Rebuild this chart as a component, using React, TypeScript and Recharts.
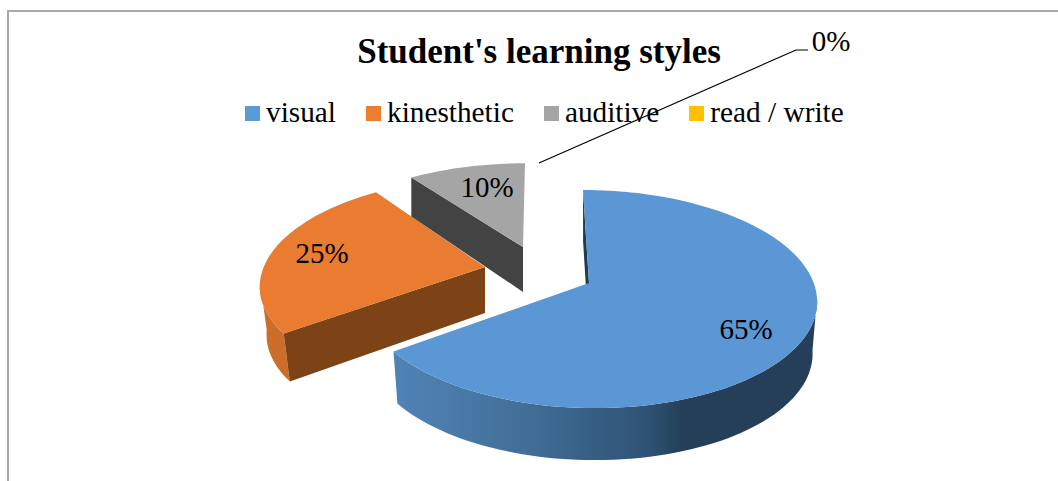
import { Legend, Pie, PieChart } from "recharts";

const CATEGORIES = ["visual", "kinesthetic", "auditive", "read / write"];
const SHARES = [65, 25, 10, 0];
const COLORS = ["#5B97D5", "#E97C30", "#A5A5A5", "#FFC000"];
const LEGEND_COLORS = ["#5B9BD5", "#ED7D31", "#A5A5A5", "#FFC000"];

const pieData = CATEGORIES.map((name, i) => ({ name, value: SHARES[i], fill: LEGEND_COLORS[i] }));

const FONT = '"Liberation Serif", "Times New Roman", serif';
const CENTER_X = 589;
const CENTER_Y = 283;
const RADIUS = 227;

// fake 3D: flat disc seen in perspective
const FLATTEN = 0.47;
const PERSPECTIVE = 0.147;

// how each exploded slice sits and looks, in the same order as CATEGORIES
const SLICE_VIEW = [
  { dx: 0, dy: 0, sx: 0.99, sy: 1, skew: -6, depth: 52, rimDepth: 52, inset: 0.98, radial: "#1F3B54", wall: "url(#blueWall)", wallFrom: 98, wallTo: 234 },
  { dx: -104, dy: -16, sx: 0.975, sy: 0.97, skew: 9, depth: 46, rimDepth: 48, inset: 0.97, radial: "#7C4316", wall: "#CB6E2A", wallFrom: 234, wallTo: 262 },
  { dx: -66, dy: -36, sx: 0.95, sy: 0.9, skew: 2, depth: 45, rimDepth: 39, inset: 1, radial: "#434343", wall: "none", wallFrom: 0, wallTo: 0 },
  { dx: 0, dy: 0, sx: 1, sy: 1, skew: 0, depth: 0, rimDepth: 0, inset: 1, radial: "none", wall: "none", wallFrom: 0, wallTo: 0 },
];

// text anchor of each percentage, relative to the pie centre
const LABEL_SPOTS = [
  { x: 157, y: 56 },
  { x: -267, y: -20 },
  { x: -102, y: -86 },
  { x: 242, y: -232 },
];
const LEADER = [
  { x: -50, y: -120 },
  { x: 207, y: -233 },
  { x: 219, y: -233 },
];

function rimPoint(view: any, r: number, deg: number) {
  const t = (deg * Math.PI) / 180;
  const u = Math.sin(t);
  const v = Math.cos(t);
  const w = 1 + PERSPECTIVE * v;
  return {
    x: (r * view.sx * u) / w + view.skew * v,
    y: (-r * FLATTEN * view.sy * v) / w,
  };
}

function toPoints(list: { x: number; y: number }[], ox: number, oy: number) {
  return list.map((p) => `${(p.x + ox).toFixed(1)},${(p.y + oy).toFixed(1)}`).join(" ");
}

function arc(view: any, r: number, from: number, to: number) {
  const pts = [];
  for (let d = from; d < to; d += 2) pts.push(rimPoint(view, r, d));
  pts.push(rimPoint(view, r, to));
  return pts;
}

function below(view: any, p: { x: number; y: number }) {
  return { x: p.x * view.inset, y: p.y + view.rimDepth };
}

function Slice3D(props: any) {
  const { cx, cy, outerRadius, startAngle, endAngle, name } = props;
  if (startAngle === endAngle) return null;
  const view = SLICE_VIEW[CATEGORIES.indexOf(name)];
  const color = COLORS[CATEGORIES.indexOf(name)];
  const ox = cx + view.dx;
  const oy = cy + view.dy;
  // pie angles run counter-clockwise from 3 o'clock, here clock angles from 12
  const t0 = 90 - startAngle;
  const t1 = 90 - endAngle;
  const top = arc(view, outerRadius, t0, t1);
  const first = rimPoint(view, outerRadius, t0);
  const apex = { x: 0, y: 0 };
  const radialWall = [first, apex, { x: 0, y: view.depth }, below(view, first)];
  const outer = view.wallTo > view.wallFrom ? arc(view, outerRadius, view.wallFrom, view.wallTo) : [];
  const outerWall = [...outer, ...outer.map((p) => below(view, p)).reverse()];
  return (
    <g>
      <defs>
        <linearGradient id="blueWall" gradientUnits="userSpaceOnUse" x1={393} x2={820} y1={0} y2={0}>
          <stop offset="0" stopColor="#5084B6" />
          <stop offset="0.3" stopColor="#426F99" />
          <stop offset="0.6" stopColor="#2E5273" />
          <stop offset="0.68" stopColor="#243F57" />
          <stop offset="1" stopColor="#243F57" />
        </linearGradient>
      </defs>
      {outerWall.length > 0 && <polygon points={toPoints(outerWall, ox, oy)} fill={view.wall} />}
      <polygon points={toPoints(radialWall, ox, oy)} fill={view.radial} />
      <polygon points={toPoints([apex, ...top], ox, oy)} fill={color} />
    </g>
  );
}

function SliceLabel(props: any) {
  const { index, value } = props;
  const spot = LABEL_SPOTS[index];
  return (
    <g>
      {value === 0 && (
        <polyline points={toPoints(LEADER, CENTER_X, CENTER_Y)} fill="none" stroke="#000" strokeWidth={1.2} />
      )}
      <text
        x={CENTER_X + spot.x}
        y={CENTER_Y + spot.y}
        textAnchor="middle"
        fontFamily={FONT}
        fontSize={29}
        fill="#000"
      >
        {value}%
      </text>
    </g>
  );
}

function LegendRow({ payload }: any) {
  return (
    <div style={{ display: "flex", gap: 30, fontFamily: FONT, fontSize: 29.3, lineHeight: "34px", color: "#000" }}>
      {(payload || []).map((item: any) => (
        <div key={item.value} style={{ display: "flex", alignItems: "center", gap: 6 }}>
          <span style={{ width: 15, height: 15, marginTop: 2, background: item.color, display: "inline-block" }} />
          <span>{item.value}</span>
        </div>
      ))}
    </div>
  );
}

export default function App() {
  return (
    <div style={{ position: "fixed", left: 0, top: 0, width: 1058, height: 481, background: "#fff", overflow: "hidden" }}>
      <div
        style={{
          position: "absolute",
          left: 7,
          top: 10,
          right: -4,
          bottom: -4,
          borderTop: "2px solid #A9A9A9",
          borderLeft: "2px solid #A9A9A9",
        }}
      />
      <PieChart width={1058} height={481} margin={{ top: 0, right: 0, bottom: 0, left: 0 }}>
        <text x={539} y={63} textAnchor="middle" fontFamily={FONT} fontWeight="bold" fontSize={35} fill="#000">
          Student's learning styles
        </text>
        <Legend
          content={<LegendRow />}
          itemSorter={null}
          wrapperStyle={{ left: 245, top: 95, width: 640 }}
        />
        <Pie
          data={pieData}
          dataKey="value"
          nameKey="name"
          cx={CENTER_X}
          cy={CENTER_Y}
          outerRadius={RADIUS}
          startAngle={90}
          endAngle={-270}
          stroke="none"
          isAnimationActive={false}
          shape={Slice3D}
          label={SliceLabel}
          labelLine={false}
        />
      </PieChart>
    </div>
  );
}
